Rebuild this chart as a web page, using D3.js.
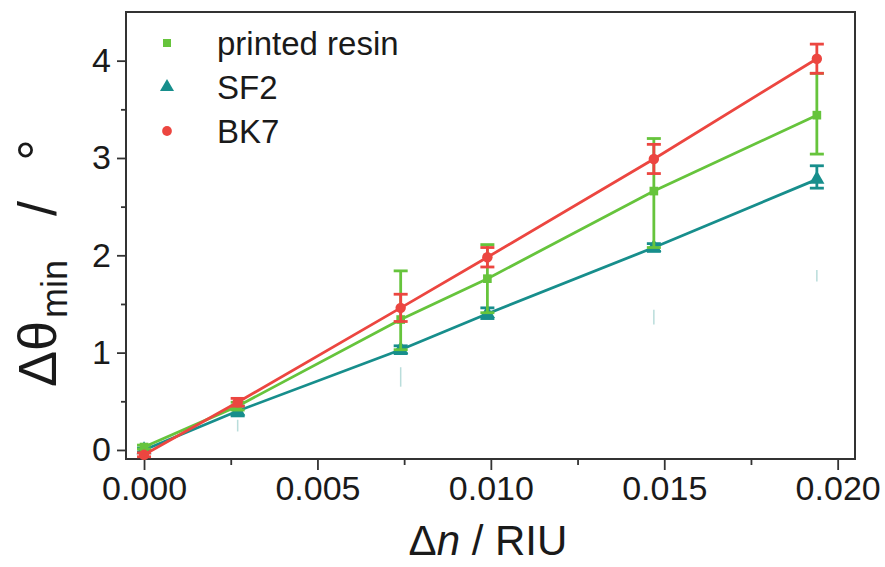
<!DOCTYPE html>
<html>
<head>
<meta charset="utf-8">
<script src="https://cdn.jsdelivr.net/npm/d3@7"></script>
<style>
  body { margin: 0; background: #fff; }
  svg { display: block; font-family: "Liberation Sans", Arial, sans-serif; }
</style>
</head>
<body>
<svg id="chart" width="885" height="567"></svg>
<script>
// refractive index change (RIU)
var dn = [0, 0.0027, 0.0074, 0.0099, 0.0147, 0.0194];

// minimum deviation angle change (deg) and error bars
var resinVals = [0.03, 0.45, 1.34, 1.76, 2.66, 3.44];
var resinErrUp = [0.02, 0.04, 0.50, 0.35, 0.54, 0.43];
var resinErrDn = [0.02, 0.04, 0.31, 0.35, 0.58, 0.40];

var sf2Vals = [0.0, 0.40, 1.03, 1.40, 2.08, 2.78];
var sf2ErrUp = [0.02, 0.05, 0.04, 0.06, 0.04, 0.14];
var sf2ErrDn = [0.02, 0.05, 0.04, 0.05, 0.04, 0.09];

var bk7Vals = [-0.05, 0.49, 1.46, 1.98, 2.99, 4.02];
var bk7Err = [0.02, 0.04, 0.14, 0.10, 0.15, 0.15];

// faint ghost ticks seen under the SF2 points
var ghostX = [0.0027, 0.0074, 0.0147, 0.0194];
var ghostTop = [0.31, 0.85, 1.44, 1.85];
var ghostBot = [0.19, 0.65, 1.29, 1.73];

var xTicks = [0, 0.005, 0.010, 0.015, 0.020];
var xMinor = [0.0025, 0.0075, 0.0125, 0.0175];
var yTicks = [0, 1, 2, 3, 4];
var yMinor = [0.5, 1.5, 2.5, 3.5];

var legendNames = ["printed resin", "SF2", "BK7"];

var colGreen = "#66c43c", colTeal = "#178e8c", colRed = "#ec4640";

var svg = d3.select("#chart");
var mLeft = 126, mRight = 855, mTop = 12, mBottom = 459;

var x = d3.scaleLinear().domain([-0.00052, 0.0205]).range([mLeft, mRight]);
var y = d3.scaleLinear().domain([-0.093, 4.5]).range([mBottom, mTop]);

// axes
var xAxis = svg.append("g").attr("transform", "translate(0," + mBottom + ")")
  .call(d3.axisBottom(x).tickValues(xTicks).tickFormat(d3.format(".3f")).tickSize(11).tickPadding(6));
var yAxis = svg.append("g").attr("transform", "translate(" + mLeft + ",0)")
  .call(d3.axisLeft(y).tickValues(yTicks).tickFormat(d3.format("d")).tickSize(9).tickPadding(6));

svg.append("g").attr("transform", "translate(0," + mBottom + ")")
  .call(d3.axisBottom(x).tickValues(xMinor).tickFormat("").tickSize(6))
  .select(".domain").remove();
svg.append("g").attr("transform", "translate(" + mLeft + ",0)")
  .call(d3.axisLeft(y).tickValues(yMinor).tickFormat("").tickSize(5))
  .select(".domain").remove();

svg.selectAll(".domain").remove();
svg.selectAll(".tick line").attr("stroke", "#333").attr("stroke-width", 1.8);
xAxis.selectAll("text").attr("font-size", 34).attr("fill", "#1a1a1a");
yAxis.selectAll("text").attr("font-size", 34).attr("fill", "#1a1a1a");

// frame
svg.append("rect")
  .attr("x", mLeft).attr("y", mTop)
  .attr("width", mRight - mLeft).attr("height", mBottom - mTop)
  .attr("fill", "none").attr("stroke", "#333").attr("stroke-width", 2);

// ghost ticks
svg.selectAll(".ghost").data(ghostX).enter().append("line")
  .attr("x1", d => x(d)).attr("x2", d => x(d))
  .attr("y1", (d, i) => y(ghostTop[i])).attr("y2", (d, i) => y(ghostBot[i]))
  .attr("stroke", "#8cc7c4").attr("stroke-width", 1.5).attr("opacity", 0.6);

var line = d3.line().x(d => x(d[0])).y(d => y(d[1]));

function drawSeries(vals, up, dn2, color, shape, size) {
  var pts = dn.map((d, i) => [d, vals[i], up[i], dn2[i]]);
  svg.append("path").datum(pts)
    .attr("d", line).attr("fill", "none")
    .attr("stroke", color).attr("stroke-width", 2.8);
  var g = svg.append("g").attr("stroke", color).attr("stroke-width", 2.8);
  pts.forEach(function(p) {
    var cx = x(p[0]), y1 = y(p[1] + p[2]), y2 = y(p[1] - p[3]);
    g.append("line").attr("x1", cx).attr("x2", cx).attr("y1", y1).attr("y2", y2);
    g.append("line").attr("x1", cx - 7).attr("x2", cx + 7).attr("y1", y1).attr("y2", y1);
    g.append("line").attr("x1", cx - 7).attr("x2", cx + 7).attr("y1", y2).attr("y2", y2);
  });
  svg.append("g").selectAll("path").data(pts).enter().append("path")
    .attr("transform", d => "translate(" + x(d[0]) + "," + y(d[1]) + ")")
    .attr("d", d3.symbol().type(shape).size(size))
    .attr("fill", color);
}

drawSeries(sf2Vals, sf2ErrUp, sf2ErrDn, colTeal, d3.symbolTriangle, 100);
drawSeries(resinVals, resinErrUp, resinErrDn, colGreen, d3.symbolSquare, 75);
drawSeries(bk7Vals, bk7Err, bk7Err, colRed, d3.symbolCircle, 85);

// legend
var legendCols = [colGreen, colTeal, colRed];
var legendShapes = [d3.symbolSquare, d3.symbolTriangle, d3.symbolCircle];
var legendSizes = [65, 85, 75];
var legend = svg.append("g");
legendNames.forEach(function(name, i) {
  var ly = 43 + i * 44;
  legend.append("path")
    .attr("transform", "translate(167," + ly + ")")
    .attr("d", d3.symbol().type(legendShapes[i]).size(legendSizes[i]))
    .attr("fill", legendCols[i]);
  legend.append("text")
    .attr("x", 217).attr("y", ly).attr("dy", "0.36em")
    .attr("font-size", 33).attr("fill", "#1a1a1a")
    .text(name);
});

// x title
var xt = svg.append("text")
  .attr("x", 488).attr("y", 555).attr("text-anchor", "middle")
  .attr("font-size", 42).attr("fill", "#1a1a1a");
xt.append("tspan").text("\u0394");
xt.append("tspan").attr("font-style", "italic").text("n");
xt.append("tspan").text(" / RIU");

// y title
var yt = svg.append("text")
  .attr("transform", "translate(56,387) rotate(-90)")
  .attr("text-anchor", "start")
  .attr("font-size", 54).attr("fill", "#1a1a1a");
yt.append("tspan").text("\u0394\u03b8");
yt.append("tspan").attr("font-size", 36).attr("dy", 11).attr("dx", 3).text("min");
yt.append("tspan").attr("dy", -11).attr("dx", 44).text("/");
yt.append("tspan").attr("dx", 40).text("\u00b0");
</script>
</body>
</html>
